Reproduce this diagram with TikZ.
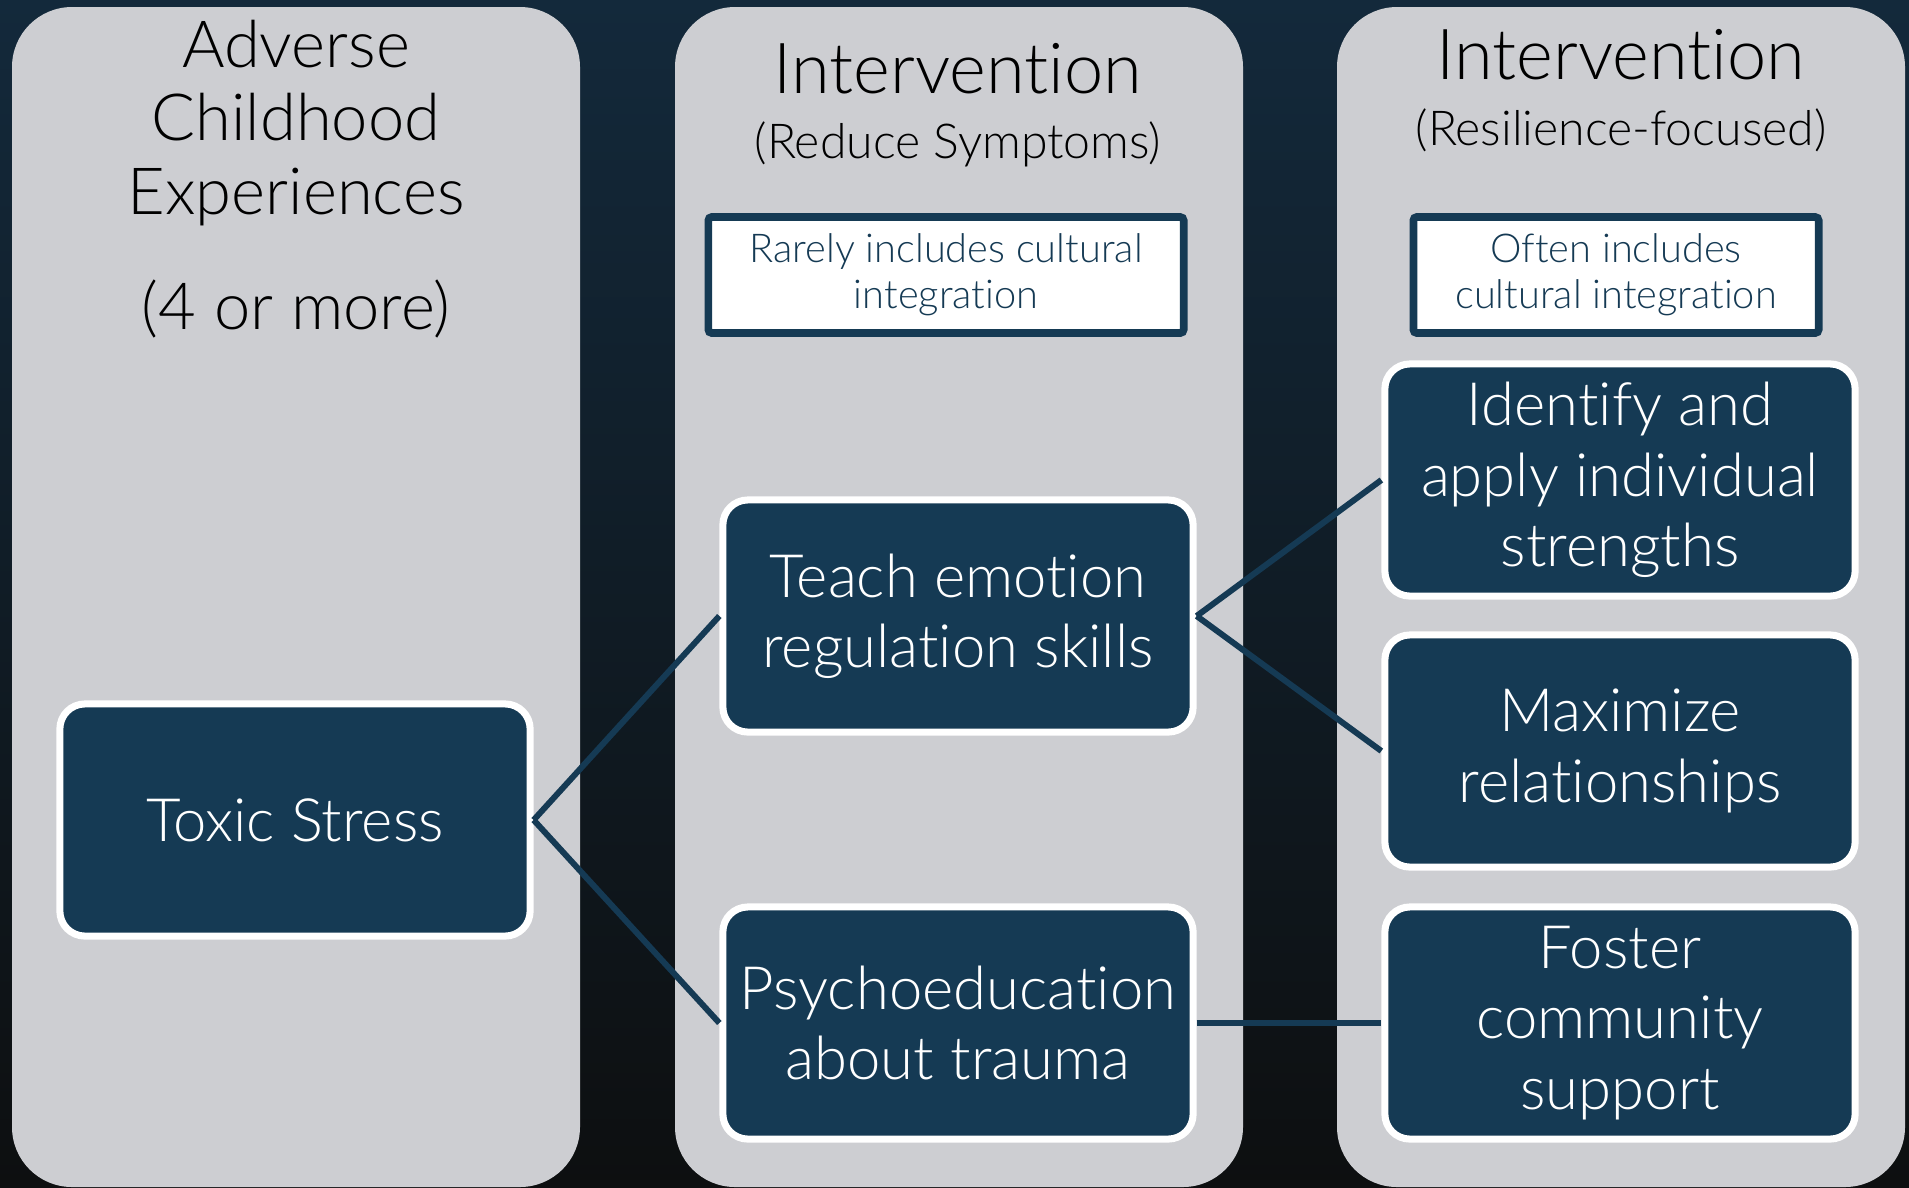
\documentclass[tikz,border=0pt]{standalone}
\usepackage{fontspec}
\setmainfont{Lato}[UprightFont=* Light, Ligatures={NoCommon}]
\definecolor{navy}{HTML}{153A54}
\definecolor{panelgray}{HTML}{CDCED2}
\definecolor{bgtop}{HTML}{13293B}
\definecolor{bgbottom}{HTML}{0D0F10}
\tikzset{
  skillbox/.style={draw=white, line width=2pt, fill=navy, text=white, rounded corners=0.25cm,
    minimum width=4.7cm, minimum height=2.32cm, align=center, inner sep=0pt,
    font=\fontsize{17}{20}\selectfont},
  notebox/.style={draw=navy, line width=2.2pt, fill=white, text=navy, rounded corners=1pt,
    minimum width=4.75cm, minimum height=1.16cm, align=center, inner sep=0pt,
    font=\fontsize{11.3}{13}\selectfont},
  head/.style={align=center, text=black, font=\fontsize{18.5}{21}\selectfont},
  subhead/.style={text=black, font=\fontsize{13.7}{15}\selectfont},
  link/.style={draw=navy, line width=1.7pt}
}
\begin{document}
\begin{tikzpicture}[x=0.01cm,y=-0.01cm]
\useasboundingbox (0,0) rectangle (1909,1187);
\shade[top color=bgtop, bottom color=bgbottom] (0,0) rectangle (1909,1187);
\foreach \x in {12,675,1337} \fill[panelgray, rounded corners=0.6cm] (\x,7) rectangle (\x+568,1187);
\node[head] (ace) at (296,123) {Adverse\\Childhood\\Experiences};
\node[head] (acecount) at (296,309) {(4 or more)};
\node[head, font=\fontsize{20}{24}\selectfont] (reduce) at (958,69) {Intervention};
\node[subhead] (reducesub) at (958,144) {(Reduce Symptoms)};
\node[head, font=\fontsize{20}{24}\selectfont] (resil) at (1621,55) {Intervention};
\node[subhead] (resilsub) at (1621,130) {(Resilience-focused)};
\node[notebox] (rarely) at (946,275) {Rarely includes cultural\\integration};
\node[notebox, minimum width=4.05cm] (often) at (1616,275) {Often includes\\cultural integration};
\node[skillbox] (toxic) at (295,820) {Toxic Stress};
\node[skillbox] (teach) at (958,616) {Teach emotion\\regulation skills};
\node[skillbox] (psycho) at (958,1023) {Psychoeducation\\about trauma};
\node[skillbox] (identify) at (1620,480) {Identify and\\apply individual\\strengths};
\node[skillbox] (maximize) at (1620,751) {Maximize\\relationships};
\node[skillbox] (foster) at (1620,1023) {Foster\\community\\support};
\draw[link] (toxic.east) -- (teach.west);
\draw[link] (toxic.east) -- (psycho.west);
\draw[link] (teach.east) -- (identify.west);
\draw[link] (teach.east) -- (maximize.west);
\draw[link] (psycho.east) -- (foster.west);
\end{tikzpicture}
\end{document}
